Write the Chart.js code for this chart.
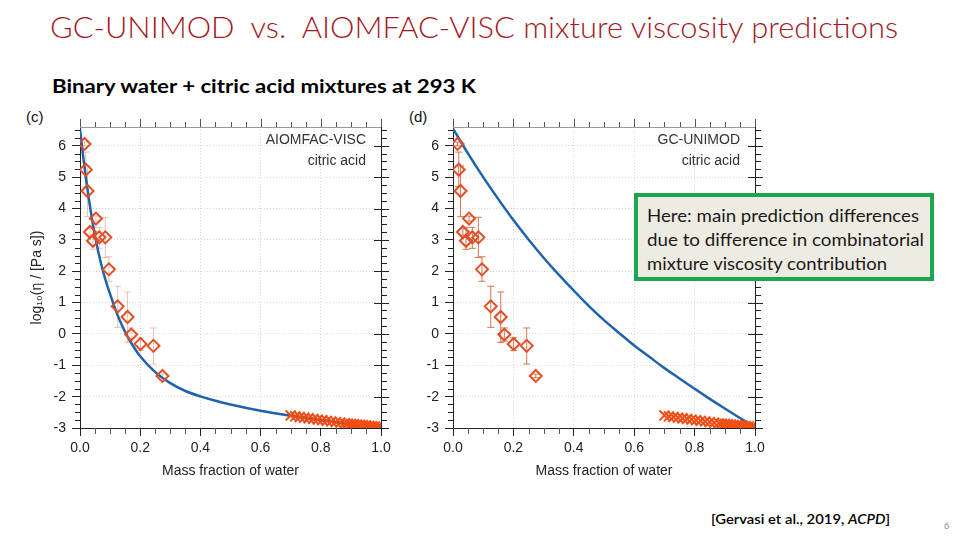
<!DOCTYPE html>
<html>
<head>
<meta charset="utf-8">
<script src="https://cdn.jsdelivr.net/npm/chart.js@4"></script>
<style>
  body { margin: 0; width: 960px; height: 540px; background: #fff; position: relative; overflow: hidden; font-family: Lato, 'Open Sans', sans-serif; }
  .txt { position: absolute; white-space: nowrap; transform-origin: 0 50%; }
  #title { left: 50px; top: 8px; font-size: 30px; font-weight: 300; color: #a3191f; }
  #sub { left: 52px; top: 74px; font-size: 19px; font-weight: 700; color: #000; }
  .panel { position: absolute; font-family: 'Liberation Sans', Arial, sans-serif; font-size: 15px; color: #111; }
  canvas { position: absolute; }
  #note { position: absolute; left: 634px; top: 193px; width: 292px; height: 80px; border: 4px solid #1ea64c; background: #eeece2; }
  #note .txt { left: 9px; font-size: 17.5px; color: #1a1a1a; }
  #cite { left: 711px; top: 511px; font-size: 13px; font-weight: 600; color: #000; }
  #page { position: absolute; left: 944px; top: 520px; font-size: 9px; color: #888; }
</style>
</head>
<body>
<div id="title" class="txt" data-w="848">GC-UNIMOD&nbsp; vs.&nbsp; AIOMFAC-VISC mixture viscosity predictions</div>
<div id="sub" class="txt" data-w="424">Binary water + citric acid mixtures at 293 K</div>
<div class="panel" style="left:26px; top:108px;">(c)</div>
<div class="panel" style="left:409px; top:108px;">(d)</div>
<canvas id="left" width="400" height="390" style="left:0; top:100px;"></canvas>
<canvas id="right" width="400" height="390" style="left:400px; top:100px;"></canvas>
<div id="note">
  <div class="txt" style="top:8px;" data-w="272">Here: main prediction differences</div>
  <div class="txt" style="top:32px;" data-w="277">due to difference in combinatorial</div>
  <div class="txt" style="top:56px;" data-w="240">mixture viscosity contribution</div>
</div>
<div id="cite" class="txt" data-w="179">[Gervasi et al., 2019, <i>ACPD</i>]</div>
<div id="page">6</div>
<script>
// Messdaten (Rauten) mit Fehlerbalken
const measX = [0.015, 0.019, 0.025, 0.053, 0.033, 0.043, 0.064, 0.084, 0.096, 0.125, 0.158, 0.170, 0.201, 0.244, 0.274];
const measY = [6.06, 5.24, 4.56, 3.68, 3.25, 2.97, 3.08, 3.08, 2.06, 0.88, 0.54, -0.02, -0.32, -0.38, -1.34];
const measLo = [6.00, 4.70, 3.74, 3.60, 3.15, 2.70, 2.73, 2.44, 1.68, 0.21, -0.27, -0.23, -0.53, -0.96, -1.40];
const measHi = [6.12, 5.80, 5.36, 3.76, 3.35, 3.40, 3.40, 3.72, 2.46, 1.52, 1.34, 0.19, -0.12, 0.19, -1.28];

// Messdaten (Kreuze) im wasserreichen Bereich
const crossX = [0.700, 0.715, 0.730, 0.745, 0.760, 0.775, 0.790, 0.805, 0.820, 0.835, 0.850, 0.865, 0.880, 0.890, 0.900, 0.910, 0.920, 0.930, 0.940, 0.950, 0.960, 0.970, 0.980, 0.990, 1.000];
const crossY = [-2.60, -2.63, -2.65, -2.67, -2.69, -2.71, -2.73, -2.75, -2.77, -2.79, -2.81, -2.83, -2.85, -2.86, -2.87, -2.88, -2.89, -2.90, -2.91, -2.92, -2.93, -2.94, -2.95, -2.96, -2.97];

// Modellkurven
const aiomfacX = [0, 0.01, 0.02, 0.03, 0.04, 0.05, 0.06, 0.07, 0.08, 0.09, 0.10, 0.12, 0.14, 0.16, 0.18, 0.20, 0.25, 0.30, 0.35, 0.40, 0.45, 0.50, 0.60, 0.70, 0.80, 0.90, 1.00];
const aiomfacY = [6.52, 5.70, 4.95, 4.27, 3.66, 3.12, 2.65, 2.24, 1.88, 1.56, 1.27, 0.72, 0.26, -0.12, -0.44, -0.71, -1.22, -1.57, -1.82, -1.99, -2.13, -2.25, -2.45, -2.61, -2.75, -2.87, -2.97];
const unimodX = [0, 0.05, 0.10, 0.15, 0.20, 0.25, 0.30, 0.35, 0.40, 0.45, 0.50, 0.55, 0.60, 0.65, 0.70, 0.75, 0.80, 0.85, 0.90, 0.95, 1.00];
const unimodY = [6.55, 5.75, 5.00, 4.30, 3.63, 3.01, 2.43, 1.89, 1.38, 0.89, 0.44, 0.03, -0.37, -0.73, -1.09, -1.42, -1.75, -2.07, -2.38, -2.68, -2.97];

Chart.defaults.font.family = "'Liberation Sans', 'DejaVu Sans', Arial, sans-serif";
Chart.defaults.color = '#222';

const pts = (xs, ys) => xs.map((x, i) => ({ x: x, y: ys[i] }));

// Zusatz: Fehlerbalken, Nebenstriche, Rahmen oben/rechts, Beschriftung im Plot
const frame = {
  id: 'frame',
  beforeDatasetsDraw(chart, args, opts) {
    const ctx = chart.ctx, xs = chart.scales.x, ys = chart.scales.y;
    ctx.save();
    ctx.strokeStyle = opts.errColor;
    ctx.lineWidth = 1;
    measX.forEach((v, i) => {
      const px = xs.getPixelForValue(v);
      const a = ys.getPixelForValue(measLo[i]), b = ys.getPixelForValue(measHi[i]);
      ctx.beginPath();
      ctx.moveTo(px, a); ctx.lineTo(px, b);
      ctx.moveTo(px - 3.5, a); ctx.lineTo(px + 3.5, a);
      ctx.moveTo(px - 3.5, b); ctx.lineTo(px + 3.5, b);
      ctx.stroke();
    });
    ctx.restore();
  },
  afterDraw(chart, args, opts) {
    const ctx = chart.ctx, xs = chart.scales.x, ys = chart.scales.y;
    const {left, right, top, bottom} = chart.chartArea;
    ctx.save();
    ctx.lineWidth = 1;
    // oben: grauer Rahmen mit Strichen
    ctx.strokeStyle = '#999';
    ctx.beginPath(); ctx.moveTo(left, top + 0.5); ctx.lineTo(right, top + 0.5); ctx.stroke();
    ctx.strokeStyle = '#555';
    ctx.beginPath();
    for (let i = 0; i <= 20; i++) {
      const px = Math.round(xs.getPixelForValue(i * 0.05)) + 0.5;
      const major = i % 4 === 0;
      ctx.moveTo(px, top); ctx.lineTo(px, top - (major ? 8 : 5));
      if (!major) { ctx.moveTo(px, bottom); ctx.lineTo(px, bottom + 6); }
    }
    ctx.stroke();
    // rechts: Rahmen mit Strichen
    ctx.strokeStyle = '#222';
    ctx.beginPath(); ctx.moveTo(right + 0.5, top); ctx.lineTo(right + 0.5, bottom); ctx.stroke();
    ctx.beginPath();
    for (let i = 0; i <= 38; i++) {
      const v = -3 + i * 0.25;
      const py = Math.round(ys.getPixelForValue(v)) + 0.5;
      const major = i % 4 === 0;
      if (major) { ctx.moveTo(right - 7, py); ctx.lineTo(right + 8, py); }
      else {
        ctx.moveTo(right, py); ctx.lineTo(right + 6, py);
        ctx.moveTo(left - 5, py); ctx.lineTo(left, py);
      }
    }
    ctx.stroke();
    // Beschriftung oben rechts im Plot
    ctx.fillStyle = '#333';
    ctx.font = "14px 'Liberation Sans', Arial, sans-serif";
    ctx.textAlign = 'right';
    ctx.textBaseline = 'middle';
    ctx.fillText(opts.model, right - 15, top + 13);
    ctx.fillText('citric acid', right - 15, top + 34);
    ctx.restore();
  }
};

function makeChart(id, curveX, curveY, model, yWidth, padRight, yTitle, errColor) {
  return new Chart(document.getElementById(id), {
    type: 'scatter',
    data: {
      datasets: [
        {
          data: pts(measX, measY), pointStyle: 'rectRot', pointRadius: 6, borderWidth: 2,
          borderColor: '#e24e26', backgroundColor: 'rgba(255,255,255,0)', order: 1
        },
        {
          data: pts(crossX, crossY), pointStyle: 'crossRot', pointRadius: 7, borderWidth: 2,
          borderColor: '#f24d14', order: 2
        },
        {
          data: pts(curveX, curveY), showLine: true, pointRadius: 0, borderColor: '#1f63ad',
          borderWidth: 2.5, cubicInterpolationMode: 'monotone', order: 3
        }
      ]
    },
    options: {
      responsive: false,
      animation: false,
      events: [],
      layout: { padding: { left: 0, right: padRight, top: 27, bottom: 0 } },
      plugins: {
        legend: { display: false },
        tooltip: { enabled: false },
        frame: { model: model, errColor: errColor }
      },
      scales: {
        x: {
          type: 'linear', min: 0, max: 1,
          afterFit: (s) => { s.height = 62; },
          ticks: { stepSize: 0.2, padding: 4, font: { size: 14 }, callback: (v) => v.toFixed(1) },
          grid: { color: '#d6d6d6', tickColor: '#222', tickLength: 8 },
          border: { color: '#222', width: 1, dash: [1, 2] },
          title: { display: true, text: 'Mass fraction of water', font: { size: 14 }, color: '#222', padding: { top: 0, bottom: 10 } }
        },
        y: {
          type: 'linear', min: -3, max: 6.6,
          afterFit: (s) => { s.width = yWidth; },
          ticks: { stepSize: 1, includeBounds: false, padding: 6, font: { size: 14 } },
          grid: { color: '#d6d6d6', tickColor: '#222', tickLength: 8 },
          border: { color: '#222', width: 1, dash: [1, 2] },
          title: { display: yTitle !== '', text: yTitle, font: { size: 14 }, color: '#222', padding: { top: 29, bottom: 0 } }
        }
      }
    },
    plugins: [frame]
  });
}

makeChart('left', aiomfacX, aiomfacY, 'AIOMFAC-VISC', 80, 19, 'log\u2081\u2080(\u03b7 / [Pa s])', 'rgba(232,140,110,0.55)');
makeChart('right', unimodX, unimodY, 'GC-UNIMOD', 53, 45, '', '#d8734c');

// Textbreiten an die Vorlage anpassen
document.querySelectorAll('[data-w]').forEach(el => {
  const w = el.getBoundingClientRect().width;
  el.style.transform = 'scaleX(' + (parseFloat(el.dataset.w) / w) + ')';
});
</script>
</body>
</html>
